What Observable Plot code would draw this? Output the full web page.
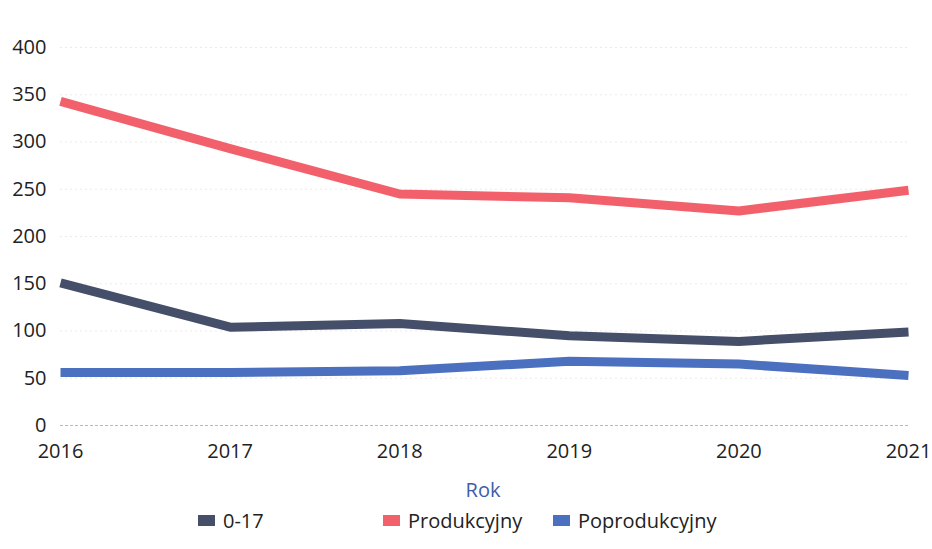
<!DOCTYPE html>
<html>
<head>
<meta charset="utf-8">
<script src="https://cdn.jsdelivr.net/npm/d3@7"></script>
<script src="https://cdn.jsdelivr.net/npm/@observablehq/plot@0.6"></script>
<style>
  body { margin: 0; background: #fff; font-family: "Open Sans", sans-serif; }
  #wrap { position: relative; width: 932px; height: 549px; }
  #rok { position: absolute; left: 0; width: 966px; top: 476px; text-align: center; font-size: 20px; color: #3d5da8; }
  .item { display: flex; align-items: center; position: absolute; top: 507px; font-size: 20px; color: #222; }
  .sw { width: 17px; height: 11px; margin-right: 8px; }
</style>
</head>
<body>
<div id="wrap">
  <div id="chart"></div>
  <div id="rok">Rok</div>
</div>
<script>
const years = [2016, 2017, 2018, 2019, 2020, 2021];
const seriesNames = ["0-17", "Produkcyjny", "Poprodukcyjny"];
const seriesColors = ["#454f69", "#f2616b", "#4c70c0"];
const values017 = [151, 104, 108, 95, 89, 99];
const valuesProd = [343, 293, 245, 241, 227, 249];
const valuesPoprod = [56, 56, 58, 68, 65, 53];
const yTicks = [0, 50, 100, 150, 200, 250, 300, 350, 400];

const allSeries = [values017, valuesProd, valuesPoprod];
const data = [];
allSeries.forEach((vals, i) => vals.forEach((v, j) => data.push({year: years[j], value: v, series: seriesNames[i]})));

const chart = Plot.plot({
  width: 932,
  height: 470,
  marginLeft: 60,
  marginRight: 24,
  marginTop: 47,
  marginBottom: 45,
  style: {fontFamily: "Open Sans, sans-serif", fontSize: "20px", color: "#222"},
  x: {type: "linear", domain: [2016, 2021], ticks: years, tickFormat: d => String(d), tickSize: 0, tickPadding: 18, label: null},
  y: {domain: [0, 400], ticks: yTicks, tickSize: 0, tickPadding: 14, label: null},
  color: {domain: seriesNames, range: seriesColors},
  marks: [
    Plot.ruleY(yTicks.filter(d => d > 0), {stroke: "#bbb", strokeOpacity: 0.3, strokeDasharray: "2,3"}),
    Plot.ruleY([0], {stroke: "#888", strokeOpacity: 0.6, strokeDasharray: "3,2"}),
    Plot.line(data, {x: "year", y: "value", z: "series", stroke: "series", strokeWidth: 9, strokeLinejoin: "round", strokeLinecap: "butt"})
  ]
});
document.getElementById("chart").appendChild(chart);

const wrap = document.getElementById("wrap");
const positions = [198, 383, 553];
seriesNames.forEach((name, i) => {
  const it = document.createElement("div");
  it.className = "item";
  it.style.left = positions[i] + "px";
  it.innerHTML = `<span class="sw" style="background:${seriesColors[i]}"></span><span>${name}</span>`;
  wrap.appendChild(it);
});
</script>
</body>
</html>
